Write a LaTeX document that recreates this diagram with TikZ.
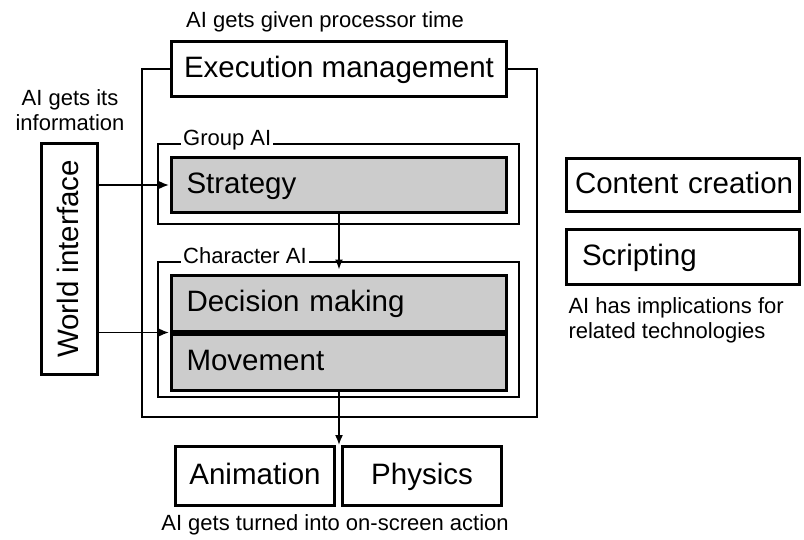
\documentclass[tikz,border=0pt]{standalone}
\usepackage{fontspec}
\setmainfont{Liberation Sans}
\usetikzlibrary{arrows.meta}

\tikzset{
  bigfont/.style={font=\fontsize{29.5}{34}\selectfont},
  smallfont/.style={font=\fontsize{22}{25}\selectfont},
  bigbox/.style={draw, line width=3pt, inner sep=0pt, text height=21pt, text depth=4pt, bigfont},
  greybox/.style={bigbox, fill=black!20, text width=305pt, inner xsep=15pt, align=left, minimum height=55pt},
  sidebox/.style={bigbox, text width=216pt, inner xsep=8.5pt, align=left},
  thinline/.style={line width=1.6pt},
  flow/.style={thinline, -{Latex[length=10pt,width=8pt]}},
  framelabel/.style={smallfont, fill=white, inner xsep=2pt, inner ysep=1pt, anchor=base west}
}

\begin{document}
\begin{tikzpicture}[x=1pt,y=-1pt]
\useasboundingbox (0,0) rectangle (804,539);

% execution management and outer frame
\node[smallfont] (timetxt) at (325,22) {AI gets given processor time};
\node[bigbox, minimum width=335pt, minimum height=55pt] (exec) at (339,69) {Execution management};
\draw[thinline] (exec.west) -- (142,69) -- (142,417) -- (537,417) -- (537,69) -- (exec.east);

% group AI
\draw[thinline] (158,144) rectangle (519,224);
\node[framelabel] (grouplbl) at (181,145) {Group AI};
\node[greybox] (strat) at (339,185) {Strategy};

% character AI
\draw[thinline] (158,262) rectangle (519,397);
\node[framelabel] (charlbl) at (181,263) {Character AI};
\node[greybox, minimum height=56pt] (decide) at (339,303) {Decision making};
\node[greybox, minimum height=56pt, anchor=north] (move) at (decide.south) {Movement};

% world interface
\node[smallfont, align=center] (infotxt) at (70,110) {AI gets its\\information};
\node[bigbox, rotate=90, minimum width=231pt, minimum height=56pt] (world) at (69.5,259) {World interface};

% output
\node[bigbox, minimum width=159pt, minimum height=59pt] (anim) at (255,476) {Animation};
\node[bigbox, minimum width=159pt, minimum height=59pt] (phys) at (422,476) {Physics};
\coordinate (act) at (339,445);
\node[smallfont] (actiontxt) at (335,525) {AI gets turned into on-screen action};

% related technologies
\node[sidebox, minimum height=53pt] (content) at (683,185) {\mbox{Content creation}};
\node[sidebox, text width=202pt, inner xsep=15.5pt, minimum height=55pt] (script) at (683,257) {Scripting};
\node[smallfont, align=left, anchor=west] (techtxt) at (565,320) {AI has implications for\\related technologies};

% connectors
\draw[flow, shorten >=1pt] (world.south |- strat.west) -- (strat.west);
\draw[flow, shorten >=1pt] (world.south |- decide.south west) -- (decide.south west);
\draw[flow, shorten >=4pt] (strat.south) -- (decide.north);
\draw[flow] (move.south) -- (act);

\end{tikzpicture}
\end{document}
